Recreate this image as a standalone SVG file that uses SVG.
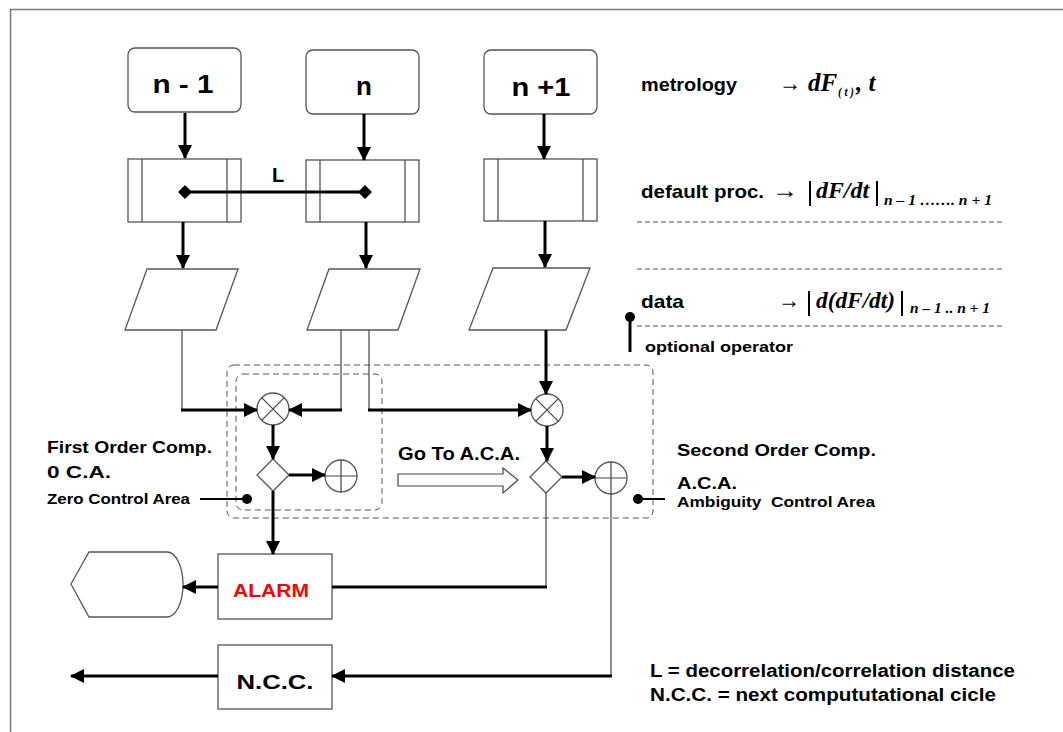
<svg xmlns="http://www.w3.org/2000/svg" width="1063" height="732" viewBox="0 0 1063 732">
<defs>
<style>
.box{fill:#fff;stroke:#555;stroke-width:1.3}
.thin{fill:none;stroke:#444;stroke-width:1.2}
.thick{fill:none;stroke:#000;stroke-width:3}
.dash{fill:none;stroke:#555;stroke-width:1.1;stroke-dasharray:5,3}
.rdash{fill:none;stroke:#555;stroke-width:1;stroke-dasharray:6,4}
.t{font-family:"Liberation Sans",Arial,sans-serif;font-weight:bold;fill:#000}
.m{font-family:"Liberation Serif","Times New Roman",serif;font-weight:bold;font-style:italic;fill:#000}
.ms{font-family:"Liberation Serif","Times New Roman",serif;fill:#000}
</style>
<marker id="ah" viewBox="0 0 14 14" refX="13" refY="7" markerWidth="14" markerHeight="14" markerUnits="userSpaceOnUse" orient="auto">
<path d="M0,0 L14,7 L0,14 Z" fill="#000"/>
</marker>
</defs>
<rect width="1063" height="732" fill="#fff"/>
<path d="M10.5,732 V9.5 H1063" fill="none" stroke="#777" stroke-width="1.5"/>

<g id="n-1"><rect class="box" x="128" y="48" width="113" height="64" rx="7"/><text class="t" x="183" y="93" font-size="26" text-anchor="middle" textLength="61" lengthAdjust="spacingAndGlyphs">n - 1</text></g>
<g id="n"><rect class="box" x="306" y="50" width="113" height="64" rx="7"/><text class="t" x="364" y="95" font-size="26" text-anchor="middle">n</text></g>
<g id="n+1"><rect class="box" x="484" y="50" width="113" height="64" rx="7"/><text class="t" x="541" y="96" font-size="26" text-anchor="middle" textLength="59" lengthAdjust="spacingAndGlyphs">n +1</text></g>

<g id="proc-n-1"><rect class="box" x="128" y="159" width="113" height="63"/><line class="thin" x1="142" y1="159" x2="142" y2="222"/><line class="thin" x1="227" y1="159" x2="227" y2="222"/></g>
<g id="proc-n"><rect class="box" x="306" y="160" width="113" height="62"/><line class="thin" x1="320" y1="160" x2="320" y2="222"/><line class="thin" x1="405" y1="160" x2="405" y2="222"/></g>
<g id="proc-n+1"><rect class="box" x="484" y="159" width="113" height="62"/><line class="thin" x1="498" y1="159" x2="498" y2="221"/><line class="thin" x1="583" y1="159" x2="583" y2="221"/></g>

<g id="data-n-1"><path class="box" d="M147,269 H238 L216,330 H125 Z"/></g>
<g id="data-n"><path class="box" d="M329,269 H420 L398,330 H307 Z"/></g>
<g id="data-n+1"><path class="box" d="M493,268 H590 L566,330 H469 Z"/></g>

<g id="zones">
<rect class="rdash" x="227" y="365" width="426" height="153" rx="7"/>
<rect class="rdash" x="236" y="374" width="146" height="136" rx="7"/>
</g>

<g id="mult1"><circle class="box" cx="273" cy="409" r="16"/><path class="thin" d="M261.7,397.7 L284.3,420.3 M284.3,397.7 L261.7,420.3"/></g>
<g id="mult2"><circle class="box" cx="547" cy="410" r="16"/><path class="thin" d="M535.7,398.7 L558.3,421.3 M558.3,398.7 L535.7,421.3"/></g>
<g id="dec1"><path class="box" d="M273,459 L289,475 L273,491 L257,475 Z"/></g>
<g id="dec2"><path class="box" d="M546,461 L562,477 L546,493 L530,477 Z"/></g>
<g id="sum1"><circle class="box" cx="341" cy="476" r="16"/><path class="thin" d="M325,476 H357 M341,460 V492"/></g>
<g id="sum2"><circle class="box" cx="611" cy="478" r="16"/><path class="thin" d="M595,478 H627 M611,462 V494"/></g>

<g id="alarm"><rect class="box" x="218" y="554" width="114" height="65"/><text class="t" x="271" y="597" font-size="19" text-anchor="middle" style="fill:#f00" textLength="76" lengthAdjust="spacingAndGlyphs">ALARM</text></g>
<g id="display"><path class="box" d="M71,584 L89,552 H167 A16,32.5 0 0 1 167,617 H89 Z"/></g>
<g id="ncc"><rect class="box" x="218" y="645" width="114" height="64"/><text class="t" x="275" y="689" font-size="20" text-anchor="middle" textLength="77" lengthAdjust="spacingAndGlyphs">N.C.C.</text></g>

<g id="connectors">
<line class="thick" x1="185" y1="113" x2="185" y2="158" marker-end="url(#ah)"/>
<line class="thick" x1="364" y1="114" x2="364" y2="160" marker-end="url(#ah)"/>
<line class="thick" x1="544" y1="114" x2="544" y2="159" marker-end="url(#ah)"/>
<line class="thick" x1="185" y1="192" x2="365" y2="192"/>
<path d="M185,185 L192,192 L185,199 L178,192 Z M365,185 L372,192 L365,199 L358,192 Z" fill="#000"/>
<line class="thick" x1="183" y1="222" x2="183" y2="268" marker-end="url(#ah)"/>
<line class="thick" x1="366" y1="222" x2="366" y2="268" marker-end="url(#ah)"/>
<line class="thick" x1="545" y1="221" x2="545" y2="267" marker-end="url(#ah)"/>
<line class="thin" x1="182" y1="330" x2="182" y2="410"/>
<line class="thick" x1="181" y1="410" x2="257" y2="410" marker-end="url(#ah)"/>
<line class="thin" x1="341" y1="330" x2="341" y2="410"/>
<line class="thick" x1="342" y1="410" x2="289" y2="410" marker-end="url(#ah)"/>
<line class="thin" x1="369" y1="330" x2="369" y2="410"/>
<line class="thick" x1="368" y1="410" x2="531" y2="410" marker-end="url(#ah)"/>
<line class="thick" x1="546" y1="330" x2="546" y2="394" marker-end="url(#ah)"/>
<line class="thick" x1="273" y1="425" x2="273" y2="459" marker-end="url(#ah)"/>
<line class="thick" x1="289" y1="475" x2="325" y2="475" marker-end="url(#ah)"/>
<line class="thick" x1="273" y1="491" x2="273" y2="554" marker-end="url(#ah)"/>
<line class="thick" x1="547" y1="426" x2="547" y2="461" marker-end="url(#ah)"/>
<line class="thick" x1="562" y1="477" x2="595" y2="477" marker-end="url(#ah)"/>
<line class="thin" x1="546" y1="493" x2="546" y2="587"/>
<line class="thick" x1="547" y1="587" x2="332" y2="587"/>
<line class="thick" x1="218" y1="587" x2="183" y2="587" marker-end="url(#ah)"/>
<line class="thin" x1="611" y1="494" x2="611" y2="676"/>
<line class="thick" x1="612" y1="676" x2="332" y2="676" marker-end="url(#ah)"/>
<line class="thick" x1="218" y1="676" x2="71" y2="676" marker-end="url(#ah)"/>
</g>

<g id="hollow-arrow"><path d="M398,474 H503 V468 L518,480 L503,493 V486 H398 Z" fill="#fff" stroke="#444" stroke-width="1.2"/></g>

<g id="legend-lines">
<line class="dash" x1="637" y1="222" x2="1002" y2="222"/>
<line class="dash" x1="637" y1="269" x2="1002" y2="269"/>
<line class="dash" x1="637" y1="326" x2="1002" y2="326"/>
<circle cx="630" cy="317" r="5" fill="#000"/>
<line x1="630" y1="317" x2="630" y2="352" stroke="#000" stroke-width="3"/>
<circle cx="247" cy="499" r="5" fill="#000"/>
<line x1="200" y1="499" x2="247" y2="499" stroke="#000" stroke-width="2"/>
<circle cx="638" cy="499" r="5" fill="#000"/>
<line x1="638" y1="499" x2="665" y2="499" stroke="#000" stroke-width="2"/>
</g>

<g id="texts">
<text class="t" x="272" y="182" font-size="20">L</text>
<text class="t" x="641" y="91" font-size="19" textLength="96" lengthAdjust="spacingAndGlyphs">metrology</text>
<text class="ms" x="779" y="91" font-size="24" textLength="22" lengthAdjust="spacingAndGlyphs">→</text>
<text class="m" x="808" y="91" font-size="25">dF</text>
<text class="m" x="838" y="96" font-size="13" textLength="16" lengthAdjust="spacingAndGlyphs" xml:space="preserve">( t )</text>
<text class="m" x="856" y="91" font-size="25">, t</text>

<text class="t" x="641" y="198" font-size="19" textLength="123" lengthAdjust="spacingAndGlyphs">default proc.</text>
<text class="ms" x="772" y="198" font-size="24" textLength="26" lengthAdjust="spacingAndGlyphs">→</text>
<line x1="810" y1="181" x2="810" y2="206" stroke="#000" stroke-width="2"/>
<text class="m" x="816" y="198" font-size="24" textLength="53" lengthAdjust="spacingAndGlyphs">dF/dt</text>
<line x1="877" y1="181" x2="877" y2="206" stroke="#000" stroke-width="2"/>
<text class="m" x="884" y="205" font-size="14" textLength="108" lengthAdjust="spacingAndGlyphs">n – 1 ……. n + 1</text>

<text class="t" x="641" y="308" font-size="19" textLength="43" lengthAdjust="spacingAndGlyphs">data</text>
<text class="ms" x="778" y="308" font-size="24" textLength="22" lengthAdjust="spacingAndGlyphs">→</text>
<line x1="809" y1="291" x2="809" y2="316" stroke="#000" stroke-width="2"/>
<text class="m" x="816" y="308" font-size="24" textLength="79" lengthAdjust="spacingAndGlyphs">d(dF/dt)</text>
<line x1="902" y1="291" x2="902" y2="316" stroke="#000" stroke-width="2"/>
<text class="m" x="910" y="313" font-size="14" textLength="80" lengthAdjust="spacingAndGlyphs">n – 1 .. n + 1</text>
<text class="t" x="645" y="352" font-size="15" textLength="148" lengthAdjust="spacingAndGlyphs">optional operator</text>

<text class="t" x="47" y="453" font-size="17" textLength="165" lengthAdjust="spacingAndGlyphs">First Order Comp.</text>
<text class="t" x="47" y="478" font-size="17" textLength="64" lengthAdjust="spacingAndGlyphs">0 C.A.</text>
<text class="t" x="47" y="504" font-size="14" textLength="143" lengthAdjust="spacingAndGlyphs">Zero Control Area</text>
<text class="t" x="398" y="460" font-size="18" textLength="122" lengthAdjust="spacingAndGlyphs">Go To A.C.A.</text>
<text class="t" x="677" y="456" font-size="17" textLength="199" lengthAdjust="spacingAndGlyphs">Second Order Comp.</text>
<text class="t" x="677" y="489" font-size="17" textLength="60" lengthAdjust="spacingAndGlyphs">A.C.A.</text>
<text class="t" x="677" y="507" font-size="15" xml:space="preserve" textLength="198" lengthAdjust="spacingAndGlyphs">Ambiguity  Control Area</text>
<text class="t" x="650" y="677" font-size="18" textLength="365" lengthAdjust="spacingAndGlyphs">L = decorrelation/correlation distance</text>
<text class="t" x="650" y="701" font-size="18" textLength="346" lengthAdjust="spacingAndGlyphs">N.C.C. = next compututational cicle</text>
</g>
</svg>
